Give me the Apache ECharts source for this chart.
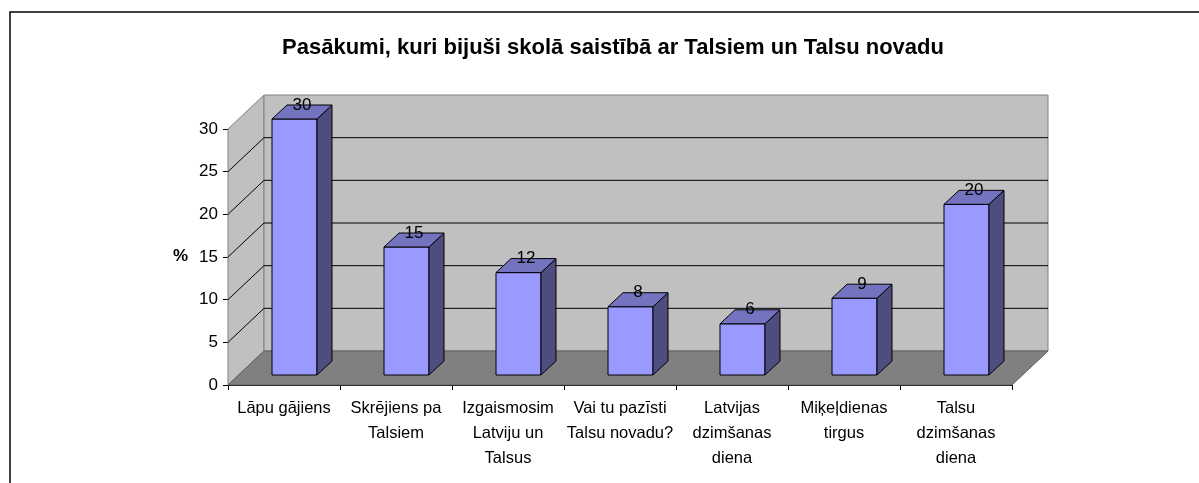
<!DOCTYPE html>
<html>
<head>
<meta charset="utf-8">
<script src="https://cdn.jsdelivr.net/npm/echarts@6/dist/echarts.min.js"></script>
<style>
  html, body { margin: 0; padding: 0; background: #fff; }
  #chart { width: 1199px; height: 483px; }
</style>
</head>
<body>
<div id="chart"></div>
<script>
var categories = [
  "Lāpu gājiens",
  "Skrējiens pa\nTalsiem",
  "Izgaismosim\nLatviju un\nTalsus",
  "Vai tu pazīsti\nTalsu novadu?",
  "Latvijas\ndzimšanas\ndiena",
  "Miķeļdienas\ntirgus",
  "Talsu\ndzimšanas\ndiena"
];
var values = [30, 15, 12, 8, 6, 9, 20];
var yTicks = [5, 10, 15, 20, 25, 30];

var titleText = "Pasākumi, kuri bijuši skolā saistībā ar Talsiem un Talsu novadu";
var fontName = "'Liberation Sans', Arial, sans-serif";

// 3d look
var depthX = 36, depthY = -34;
var barDepthX = 15, barDepthY = -14;
var barWidth = 45;

var chartDom = document.getElementById('chart');
var myChart = echarts.init(chartDom);

function renderWalls(params, api) {
  var cs = params.coordSys;
  var x0 = cs.x, x1 = cs.x + cs.width;
  var yTop = cs.y, yBot = cs.y + cs.height;
  var children = [];
  // left side wall
  children.push({
    type: 'polygon',
    shape: { points: [[x0, yBot], [x0 + depthX, yBot + depthY], [x0 + depthX, yTop + depthY], [x0, yTop]] },
    style: { fill: '#c0c0c0', stroke: '#808080', lineWidth: 1 }
  });
  // back wall
  children.push({
    type: 'rect',
    shape: { x: x0 + depthX, y: yTop + depthY, width: cs.width, height: cs.height },
    style: { fill: '#c0c0c0', stroke: '#808080', lineWidth: 1 }
  });
  // floor
  children.push({
    type: 'polygon',
    shape: { points: [[x0, yBot], [x1, yBot], [x1 + depthX, yBot + depthY], [x0 + depthX, yBot + depthY]] },
    style: { fill: '#808080', stroke: '#606060', lineWidth: 1 }
  });
  // grid lines
  yTicks.forEach(function (v) {
    if (v >= 30) return;
    var y = api.coord([0, v])[1];
    children.push({
      type: 'polyline',
      shape: { points: [[x0, y], [x0 + depthX, y + depthY], [x1 + depthX, y + depthY]] },
      style: { stroke: '#000', lineWidth: 1, fill: null }
    });
  });
  return { type: 'group', children: children };
}

function renderBar(params, api) {
  var idx = api.value(0);
  var val = api.value(1);
  var base = api.coord([idx, 0]);
  var top = api.coord([idx, val]);
  var cx = base[0] + (depthX - barDepthX) / 2;
  var shiftY = (depthY - barDepthY) / 2;
  var x = cx - barWidth / 2;
  var yb = base[1] + shiftY;
  var yt = top[1] + shiftY;
  var xr = x + barWidth;
  return {
    type: 'group',
    children: [
      {
        type: 'rect',
        shape: { x: x, y: yt, width: barWidth, height: yb - yt },
        style: { fill: '#9999ff', stroke: '#000', lineWidth: 1 }
      },
      {
        type: 'polygon',
        shape: { points: [[xr, yb], [xr + barDepthX, yb + barDepthY], [xr + barDepthX, yt + barDepthY], [xr, yt]] },
        style: { fill: '#4d4d80', stroke: '#000', lineWidth: 1 }
      },
      {
        type: 'polygon',
        shape: { points: [[x, yt], [x + barDepthX, yt + barDepthY], [xr + barDepthX, yt + barDepthY], [xr, yt]] },
        style: { fill: '#7373bf', stroke: '#000', lineWidth: 1 }
      },
      {
        type: 'text',
        style: {
          x: cx + barDepthX / 2, y: yt + barDepthY,
          text: String(val),
          align: 'center', verticalAlign: 'middle',
          font: '17px ' + fontName, fill: '#000'
        }
      }
    ]
  };
}

var option = {
  backgroundColor: '#fff',
  animation: false,
  title: {
    text: titleText,
    left: 608, top: 32, textAlign: 'center',
    textStyle: { fontFamily: fontName, fontSize: 22, fontWeight: 'bold', color: '#000' }
  },
  graphic: [
    {
      type: 'rect',
      shape: { x: 10, y: 12, width: 1400, height: 700 },
      style: { fill: null, stroke: '#000', lineWidth: 1.5 },
      silent: true
    },
    {
      type: 'text',
      left: 173, top: 248,
      style: { text: '%', font: 'bold 17px ' + fontName, fill: '#000' }
    }
  ],
  grid: { left: 228, right: 187, top: 129, bottom: 98 },
  xAxis: {
    type: 'category',
    data: categories,
    axisLine: { lineStyle: { color: '#000', width: 1 } },
    axisTick: { show: true, interval: 0, length: 5, lineStyle: { color: '#000' } },
    axisLabel: {
      interval: 0, margin: 11,
      fontFamily: fontName, fontSize: 16.5, color: '#000', lineHeight: 25
    }
  },
  yAxis: {
    type: 'value',
    min: 0, max: 30, interval: 5,
    axisLine: { show: true, lineStyle: { color: '#000', width: 1 } },
    axisTick: { show: true, length: 5, lineStyle: { color: '#000' } },
    axisLabel: { margin: 10, fontFamily: fontName, fontSize: 17, color: '#000' },
    splitLine: { show: false }
  },
  series: [
    {
      type: 'custom',
      renderItem: renderWalls,
      data: [[0, 0]],
      z: 1,
      silent: true
    },
    {
      type: 'custom',
      renderItem: renderBar,
      data: values.map(function (v, i) { return [i, v]; }),
      z: 2
    }
  ]
};

myChart.setOption(option);
window.onresize = function () {
  myChart.resize();
};
</script>
</body>
</html>
